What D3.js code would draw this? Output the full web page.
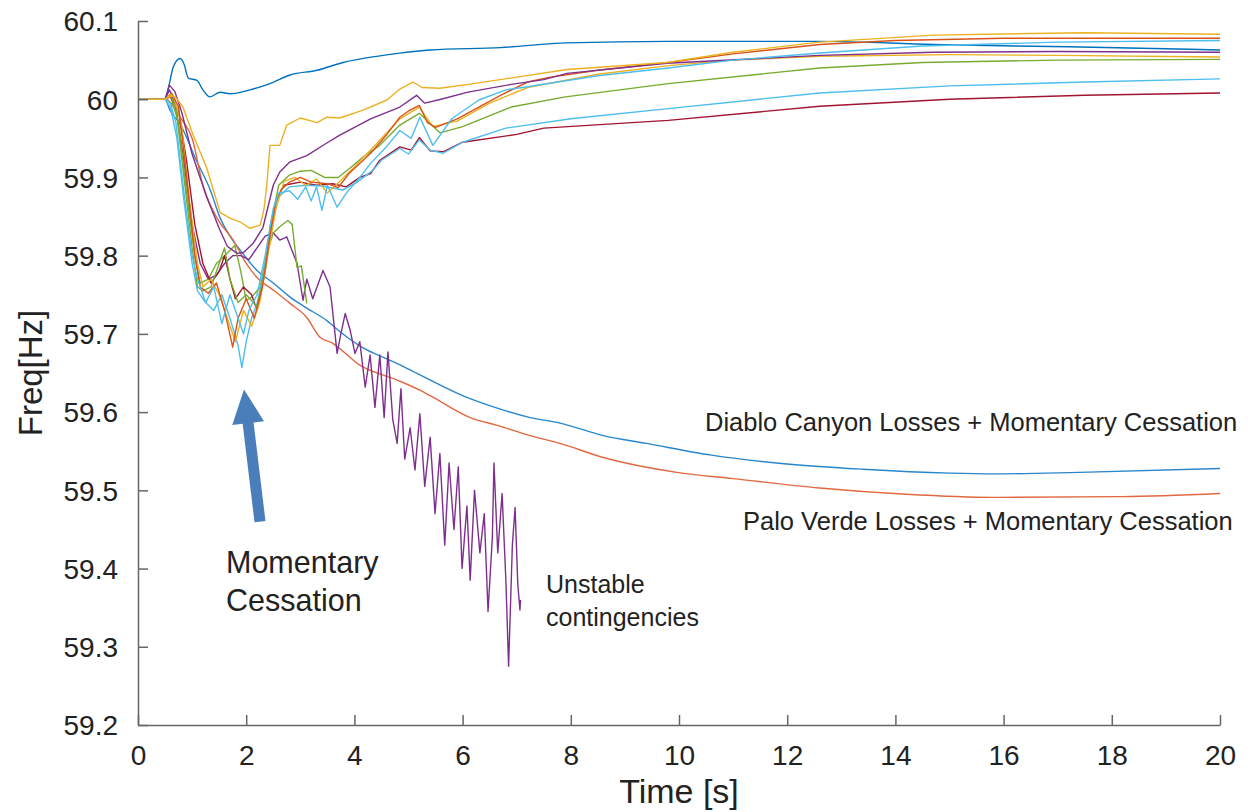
<!DOCTYPE html>
<meta charset="utf-8">
<body>
<script src="https://cdn.jsdelivr.net/npm/d3@7"></script>
<style>
    html, body {
        margin: 0;
        background: #fff;
    }
    text {
        font-family: "Liberation Sans", Arial, sans-serif;
        fill: #222;
    }
</style>
<script>
// frequency traces, [time s, freq Hz]
var topBlue = [[0,60],[0.5,60],[0.58,60.02],[0.65,60.041],[0.78,60.052],[0.85,60.045],[0.93,60.027],[1.09,60.024],[1.2,60.012],[1.33,60.003],[1.52,60.009],[1.7,60.007],[2.07,60.012],[2.44,60.02],[2.81,60.031],[3.31,60.037],[3.79,60.047],[4.53,60.056],[4.84,60.059],[5.4,60.063],[6.7,60.066],[7.93,60.072],[9.78,60.074],[12.6,60.074],[14.7,60.07],[17.2,60.067],[20,60.063]];

var yellowA = [[0,60],[0.5,60],[0.6,60.006],[0.7,60.002],[0.83,59.99],[1.02,59.954],[1.27,59.912],[1.52,59.855],[1.7,59.848],[1.89,59.843],[2.07,59.835],[2.26,59.839],[2.33,59.86],[2.38,59.89],[2.44,59.941],[2.62,59.941],[2.75,59.967],[3.0,59.976],[3.31,59.97],[3.49,59.977],[3.73,59.976],[4.16,59.986],[4.6,59.999],[4.84,60.013],[5.08,60.022],[5.25,60.015],[5.58,60.014],[6.2,60.02],[6.88,60.027],[7.93,60.038],[9.78,60.047],[11,60.06],[12.6,60.073],[14.7,60.082],[17.5,60.085],[20,60.083]];

var purpleA = [[0,60],[0.5,60],[0.58,60.018],[0.68,60.01],[0.81,59.983],[1.0,59.93],[1.27,59.875],[1.5,59.835],[1.65,59.812],[1.83,59.803],[1.95,59.804],[2.13,59.816],[2.31,59.836],[2.5,59.89],[2.62,59.907],[2.81,59.92],[3.12,59.928],[3.49,59.944],[3.73,59.954],[4.3,59.975],[4.84,59.99],[5.15,60.005],[5.3,59.995],[5.6,60.0],[6.1,60.009],[6.9,60.019],[7.5,60.025],[7.93,60.033],[9.78,60.046],[12.6,60.056],[14.7,60.06],[17,60.061],[20,60.06]];

var orangeA = [[0,60],[0.5,60],[0.62,60.008],[0.75,59.99],[0.9,59.9],[1.05,59.8],[1.15,59.76],[1.3,59.752],[1.45,59.765],[1.6,59.73],[1.75,59.683],[1.85,59.72],[2.0,59.745],[2.15,59.72],[2.3,59.76],[2.45,59.83],[2.55,59.87],[2.65,59.885],[2.8,59.894],[3.0,59.9],[3.2,59.894],[3.5,59.892],[3.7,59.887],[3.9,59.905],[4.3,59.931],[4.6,59.955],[4.84,59.977],[5.0,59.985],[5.2,59.992],[5.35,59.97],[5.5,59.964],[5.9,59.975],[6.3,59.99],[6.7,60.005],[7.2,60.022],[7.6,60.028],[8.5,60.037],[9.8,60.047],[11,60.058],[12.6,60.07],[14,60.075],[16,60.078],[18,60.078],[20,60.078]];

var yellowB = [[0,60],[0.5,60],[0.65,60.005],[0.8,59.97],[0.95,59.87],[1.1,59.79],[1.2,59.76],[1.35,59.77],[1.5,59.75],[1.65,59.72],[1.8,59.69],[1.95,59.73],[2.1,59.71],[2.25,59.74],[2.4,59.8],[2.55,59.86],[2.7,59.895],[2.9,59.9],[3.1,59.89],[3.3,59.898],[3.5,59.88],[3.7,59.893],[3.95,59.91],[4.3,59.935],[4.84,59.975],[5.2,59.99],[5.45,59.965],[5.9,59.972],[6.5,59.995],[7.2,60.015],[8.5,60.032],[9.8,60.043],[11,60.05],[12.6,60.055],[15,60.057],[17,60.056],[20,60.054]];

var greenA = [[0,60],[0.5,60],[0.6,60.005],[0.7,59.99],[0.85,59.9],[1.0,59.81],[1.1,59.76],[1.2,59.755],[1.35,59.76],[1.5,59.79],[1.6,59.81],[1.7,59.77],[1.85,59.74],[2.0,59.75],[2.2,59.735],[2.35,59.78],[2.5,59.855],[2.6,59.89],[2.8,59.903],[3.0,59.908],[3.2,59.909],[3.45,59.9],[3.7,59.9],[3.92,59.912],[4.16,59.926],[4.45,59.94],[4.84,59.967],[5.2,59.982],[5.58,59.957],[6.0,59.965],[6.9,59.99],[7.9,60.003],[9.8,60.02],[12.6,60.04],[14.5,60.047],[17,60.05],[20,60.051]];

var lightBlueA = [[0,60],[0.5,60],[0.6,59.995],[0.7,59.97],[0.85,59.88],[1.0,59.8],[1.1,59.77],[1.25,59.74],[1.4,59.76],[1.55,59.713],[1.7,59.75],[1.85,59.72],[1.95,59.7],[2.05,59.73],[2.2,59.75],[2.35,59.8],[2.5,59.86],[2.6,59.88],[2.8,59.883],[2.95,59.872],[3.1,59.888],[3.2,59.87],[3.3,59.888],[3.4,59.858],[3.5,59.89],[3.68,59.862],[3.85,59.88],[4.1,59.9],[4.3,59.918],[4.6,59.94],[4.84,59.96],[5.05,59.95],[5.21,59.977],[5.45,59.941],[5.8,59.975],[6.3,59.999],[6.8,60.012],[7.2,60.016],[8.5,60.03],[9.8,60.04],[11,60.05],[12.6,60.059],[14.5,60.068],[17,60.073],[20,60.075]];

var darkRed = [[0,60],[0.5,60],[0.6,60.003],[0.75,59.985],[0.9,59.92],[1.05,59.84],[1.2,59.79],[1.35,59.765],[1.5,59.78],[1.6,59.8],[1.7,59.77],[1.8,59.745],[1.95,59.76],[2.1,59.75],[2.2,59.73],[2.35,59.78],[2.45,59.84],[2.55,59.87],[2.7,59.89],[3.0,59.894],[3.3,59.89],[3.6,59.892],[3.85,59.888],[4.1,59.9],[4.3,59.905],[4.47,59.922],[4.84,59.939],[5.05,59.935],[5.2,59.951],[5.4,59.934],[5.65,59.933],[6.0,59.945],[7.0,59.955],[7.5,59.963],[9.8,59.973],[12.6,59.991],[15,60.0],[17.5,60.005],[20,60.008]];

var lightBlueB = [[0,60],[0.5,60],[0.6,59.99],[0.72,59.95],[0.85,59.87],[1.0,59.79],[1.1,59.755],[1.25,59.74],[1.4,59.73],[1.55,59.75],[1.7,59.72],[1.85,59.685],[1.92,59.657],[2.0,59.69],[2.1,59.72],[2.2,59.739],[2.3,59.77],[2.4,59.81],[2.5,59.85],[2.6,59.875],[2.8,59.888],[3.1,59.89],[3.4,59.889],[3.79,59.884],[4.05,59.894],[4.34,59.909],[4.5,59.922],[4.84,59.937],[5.0,59.93],[5.2,59.948],[5.4,59.935],[5.64,59.931],[6.0,59.945],[6.8,59.963],[8,59.975],[9.8,59.988],[12.6,60.008],[15,60.017],[17.5,60.022],[20,60.026]];

var greenUnstable = [[0,60],[0.5,60],[0.6,60.004],[0.75,59.97],[0.9,59.88],[1.05,59.8],[1.15,59.765],[1.3,59.77],[1.45,59.79],[1.6,59.8],[1.79,59.813],[1.9,59.78],[2.0,59.743],[2.1,59.747],[2.26,59.76],[2.38,59.803],[2.5,59.829],[2.62,59.837],[2.77,59.845],[2.85,59.84],[2.94,59.785],[3.02,59.787],[3.12,59.739]];

var purpleUnstable = [[0,60],[0.5,60],[0.58,60.012],[0.7,59.99],[0.85,59.92],[1.0,59.84],[1.15,59.79],[1.3,59.77],[1.45,59.775],[1.6,59.79],[1.75,59.8],[1.9,59.8],[2.05,59.795],[2.2,59.81],[2.35,59.825],[2.5,59.829],[2.62,59.82],[2.75,59.824],[2.94,59.79],[3.05,59.743],[3.12,59.77],[3.23,59.745],[3.42,59.781],[3.55,59.76],[3.68,59.675],[3.75,59.7],[3.83,59.726],[3.92,59.705],[4.01,59.675],[4.1,59.69],[4.2,59.632],[4.29,59.673],[4.38,59.606],[4.47,59.673],[4.55,59.593],[4.62,59.677],[4.71,59.59],[4.79,59.56],[4.86,59.63],[4.93,59.54],[5.03,59.58],[5.12,59.526],[5.21,59.598],[5.3,59.505],[5.4,59.568],[5.49,59.47],[5.58,59.547],[5.67,59.43],[5.75,59.535],[5.84,59.45],[5.92,59.53],[5.99,59.4],[6.08,59.48],[6.14,59.385],[6.22,59.5],[6.32,59.42],[6.4,59.47],[6.47,59.345],[6.55,59.44],[6.58,59.535],[6.65,59.42],[6.73,59.496],[6.8,59.385],[6.85,59.275],[6.92,59.43],[6.97,59.478],[7.02,59.38],[7.06,59.347],[7.07,59.36]];

var diablo = [[0,60],[0.5,60],[0.59,59.986],[0.78,59.968],[1.09,59.92],[1.33,59.885],[1.52,59.848],[1.7,59.825],[1.89,59.807],[2.2,59.781],[2.5,59.765],[2.81,59.747],[3.12,59.733],[3.49,59.717],[3.73,59.703],[4.16,59.682],[4.6,59.668],[4.97,59.656],[5.34,59.643],[6.0,59.621],[6.64,59.605],[7.25,59.593],[7.8,59.586],[8.6,59.57],[9.4,59.56],[10.6,59.545],[11.8,59.535],[13.4,59.527],[15,59.522],[15.8,59.521],[17.4,59.523],[20,59.528]];

var paloVerde = [[0,60],[0.5,60],[0.8,59.975],[1.0,59.95],[1.2,59.89],[1.46,59.848],[1.76,59.82],[2.0,59.79],[2.2,59.772],[2.5,59.756],[2.81,59.739],[3.12,59.721],[3.36,59.696],[3.6,59.688],[4.1,59.66],[4.79,59.641],[5.21,59.628],[5.4,59.621],[6.14,59.593],[6.64,59.583],[7.25,59.57],[7.8,59.56],[8.6,59.542],[9.96,59.523],[11,59.515],[12.6,59.503],[14.2,59.495],[15.8,59.491],[18.2,59.492],[20,59.496]];

var xTicks = [0, 2, 4, 6, 8, 10, 12, 14, 16, 18, 20];
var yTicks = [59.2, 59.3, 59.4, 59.5, 59.6, 59.7, 59.8, 59.9, 60, 60.1];

// arrow tail and tip, [time s, freq Hz]
var arrowTail = [2.255, 59.46],
    arrowTip = [1.96, 59.629];

var width = 1255,
    height = 812;

var x = d3.scaleLinear().domain([0, 20]).range([138, 1220]),
    y = d3.scaleLinear().domain([59.2, 60.1]).range([725, 21]);

var svg = d3.select("body").append("svg")
    .attr("width", width)
    .attr("height", height);

var traces = [
    {d: diablo, c: "#2a86cc", smooth: true},
    {d: paloVerde, c: "#e2683f", smooth: true},
    {d: purpleUnstable, c: "#7E2F8E"},
    {d: greenUnstable, c: "#77AC30"},
    {d: topBlue, c: "#0072BD", smooth: true},
    {d: darkRed, c: "#A2142F"},
    {d: lightBlueB, c: "#4DBEEE"},
    {d: greenA, c: "#77AC30"},
    {d: yellowB, c: "#EDB120"},
    {d: orangeA, c: "#D95319"},
    {d: purpleA, c: "#7E2F8E"},
    {d: lightBlueA, c: "#4DBEEE"},
    {d: yellowA, c: "#EDB120"}
];

var line = d3.line()
    .x(function(d) { return x(d[0]); })
    .y(function(d) { return y(d[1]); });

var smoothLine = d3.line()
    .x(function(d) { return x(d[0]); })
    .y(function(d) { return y(d[1]); })
    .curve(d3.curveMonotoneX);

svg.append("g").selectAll("path")
    .data(traces)
    .enter().append("path")
    .attr("d", function(d) { return d.smooth ? smoothLine(d.d) : line(d.d); })
    .attr("fill", "none")
    .attr("stroke", function(d) { return d.c; })
    .attr("stroke-width", 1.4)
    .attr("stroke-linejoin", "round");

// axes, ticks pointing inward
var xAxis = svg.append("g")
    .attr("transform", "translate(0," + y(59.2) + ")")
    .call(d3.axisBottom(x).tickValues(xTicks).tickSizeInner(-10).tickSizeOuter(0).tickPadding(20));

var yAxis = svg.append("g")
    .attr("transform", "translate(" + x(0) + ",0)")
    .call(d3.axisLeft(y).tickValues(yTicks).tickSizeInner(-10).tickSizeOuter(0).tickPadding(20)
        .tickFormat(function(d) { return d3.format("")(+d.toFixed(1)); }));

[xAxis, yAxis].forEach(function(a) {
    a.select(".domain").attr("stroke", "#666").attr("stroke-width", 1.5);
    a.selectAll(".tick line").attr("stroke", "#666").attr("stroke-width", 1.5);
    a.selectAll(".tick text")
        .style("font-family", "'Liberation Sans', Arial, sans-serif")
        .style("font-size", "28px")
        .attr("fill", "#222");
});

xAxis.selectAll(".tick text").attr("dy", "0.71em");
yAxis.selectAll(".tick text").attr("dy", "0.35em");

svg.append("text")
    .attr("x", x(10))
    .attr("y", 803)
    .attr("text-anchor", "middle")
    .style("font-size", "34px")
    .text("Time [s]");

svg.append("text")
    .attr("transform", "translate(42," + y(59.65) + ")rotate(-90)")
    .attr("text-anchor", "middle")
    .style("font-size", "33px")
    .text("Freq[Hz]");

// arrow
var ax0 = x(arrowTail[0]), ay0 = y(arrowTail[1]),
    ax1 = x(arrowTip[0]), ay1 = y(arrowTip[1]),
    ang = Math.atan2(ay1 - ay0, ax1 - ax0),
    len = Math.sqrt((ax1 - ax0) * (ax1 - ax0) + (ay1 - ay0) * (ay1 - ay0)),
    headLen = 34, headW = 16, shaftW = 5.5;

svg.append("path")
    .attr("transform", "translate(" + ax0 + "," + ay0 + ")rotate(" + ang * 180 / Math.PI + ")")
    .attr("d", "M0," + (-shaftW) + "L" + (len - headLen) + "," + (-shaftW) +
        "L" + (len - headLen) + "," + (-headW) + "L" + len + ",0" +
        "L" + (len - headLen) + "," + headW + "L" + (len - headLen) + "," + shaftW +
        "L0," + shaftW + "Z")
    .attr("fill", "#4a7ebb");

var notes = [
    {t: "Momentary", x: 226, y: 573, s: 30.5},
    {t: "Cessation", x: 226, y: 611, s: 30.5},
    {t: "Unstable", x: 546, y: 593, s: 25},
    {t: "contingencies", x: 546, y: 626, s: 25},
    {t: "Diablo Canyon Losses + Momentary Cessation", x: 705, y: 431, s: 25.5},
    {t: "Palo Verde Losses + Momentary Cessation", x: 743, y: 530, s: 25.5}
];

svg.append("g").selectAll("text")
    .data(notes)
    .enter().append("text")
    .attr("x", function(d) { return d.x; })
    .attr("y", function(d) { return d.y; })
    .style("font-size", function(d) { return d.s + "px"; })
    .text(function(d) { return d.t; });
</script>
